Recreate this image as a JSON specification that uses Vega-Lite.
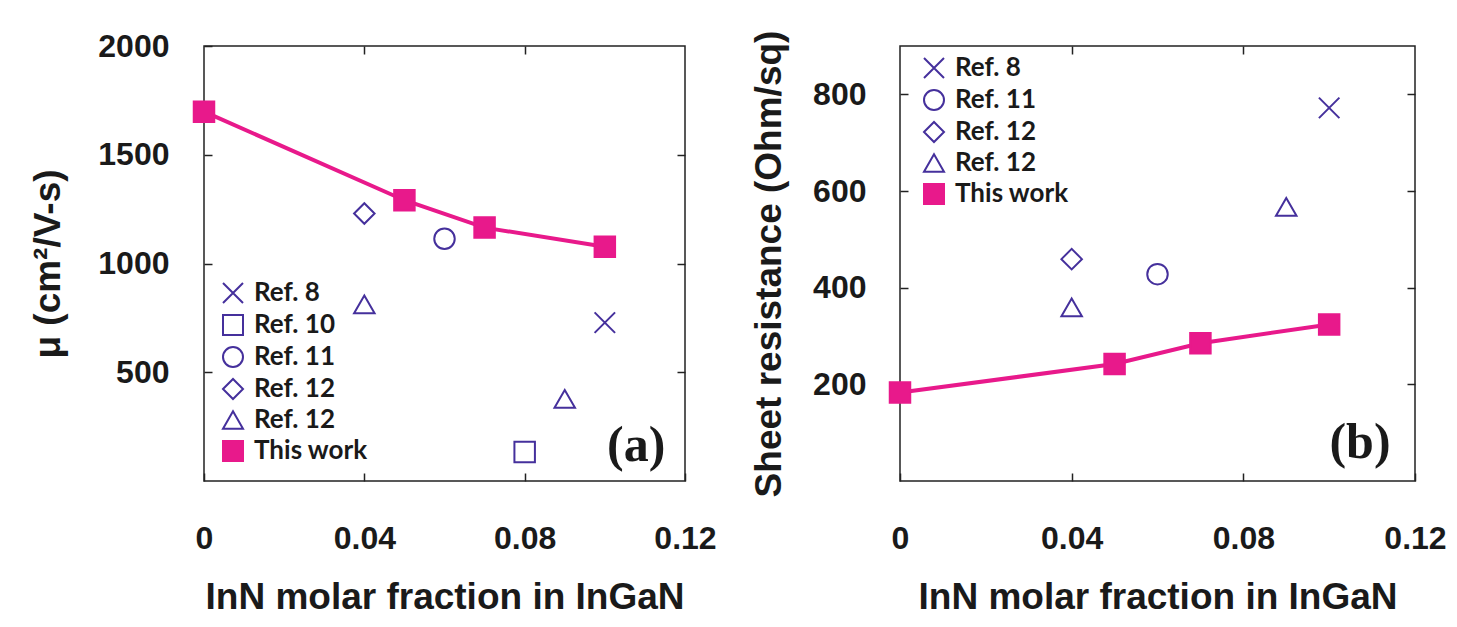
{
  "$schema": "https://vega.github.io/schema/vega-lite/v6.json",
  "background": "white",
  "padding": {"left": 29, "top": 29, "right": 10, "bottom": 5},
  "bounds": "flush",
  "spacing": 215,
  "resolve": {
    "scale": {"x": "independent", "y": "independent", "shape": "independent", "stroke": "independent", "fill": "independent"},
    "legend": {"shape": "independent", "stroke": "independent", "fill": "independent"}
  },
  "config": {
    "view": {"stroke": "#222222", "strokeWidth": 1.5},
    "axis": {
      "labelFont": "Liberation Sans", "labelFontWeight": "bold", "labelFontSize": 32, "labelColor": "#1a1a1a",
      "titleFont": "Liberation Sans", "titleFontWeight": "bold", "titleFontSize": 37, "titleColor": "#1a1a1a",
      "domain": false, "grid": false, "tickSize": -8, "tickColor": "#222222", "tickWidth": 1.5,
      "labelFlush": false, "labelOverlap": false
    },
    "legend": {
      "labelFont": "Lato", "labelFontWeight": "bold", "labelFontSize": 26, "labelColor": "#1a1a1a",
      "symbolSize": 400, "symbolStrokeWidth": 2, "rowPadding": 4, "labelOffset": 8, "padding": 0
    }
  },
  "datasets": {
    "a": [
      {"x": 0, "y": 1698, "series": "This work"},
      {"x": 0.05, "y": 1291, "series": "This work"},
      {"x": 0.07, "y": 1165, "series": "This work"},
      {"x": 0.1, "y": 1077, "series": "This work"},
      {"x": 0.1, "y": 728, "series": "Ref. 8"},
      {"x": 0.08, "y": 133, "series": "Ref. 10"},
      {"x": 0.06, "y": 1114, "series": "Ref. 11"},
      {"x": 0.04, "y": 1230, "series": "Ref. 12a"},
      {"x": 0.04, "y": 812, "series": "Ref. 12b"},
      {"x": 0.09, "y": 378, "series": "Ref. 12b"}
    ],
    "b": [
      {"x": 0, "y": 183, "series": "This work"},
      {"x": 0.05, "y": 242, "series": "This work"},
      {"x": 0.07, "y": 285, "series": "This work"},
      {"x": 0.1, "y": 324, "series": "This work"},
      {"x": 0.1, "y": 772, "series": "Ref. 8"},
      {"x": 0.06, "y": 428, "series": "Ref. 11"},
      {"x": 0.04, "y": 459, "series": "Ref. 12a"},
      {"x": 0.04, "y": 359, "series": "Ref. 12b"},
      {"x": 0.09, "y": 567, "series": "Ref. 12b"}
    ]
  },
  "hconcat": [
    {
      "width": 481,
      "height": 435,
      "data": {"name": "a"},
      "layer": [
        {
          "transform": [{"filter": "datum.series == 'This work'"}],
          "mark": {"type": "line", "color": "#e8198b", "strokeWidth": 4},
          "encoding": {
            "x": {"field": "x", "type": "quantitative", "scale": {"domain": [0, 0.12], "nice": false, "zero": false},
              "axis": {"orient": "bottom", "values": [0, 0.04, 0.08, 0.12], "format": ".2~f", "labelPadding": 50, "title": "InN molar fraction in InGaN", "titlePadding": 25}},
            "y": {"field": "y", "type": "quantitative", "scale": {"domain": [0, 2000], "nice": false, "zero": false},
              "axis": {"orient": "left", "values": [500, 1000, 1500, 2000], "format": "d", "labelPadding": 43, "title": "μ  (cm²/V-s)", "titlePadding": 30}}
          }
        },
        {
          "mark": {"type": "point", "filled": true, "size": 420, "strokeWidth": 2, "opacity": 1},
          "encoding": {
            "x": {"field": "x", "type": "quantitative", "axis": {"orient": "top", "values": [0.04, 0.08], "labels": false, "title": null}},
            "y": {"field": "y", "type": "quantitative", "axis": {"orient": "right", "values": [500, 1000, 1500], "labels": false, "title": null}},
            "shape": {"field": "series", "type": "nominal",
              "scale": {"domain": ["Ref. 8", "Ref. 10", "Ref. 11", "Ref. 12a", "Ref. 12b", "This work"],
                "range": ["M-1,-1L1,1M-1,1L1,-1", "square", "circle", "diamond", "triangle-up", "square"]},
              "legend": {"title": null, "orient": "none", "legendX": 16, "legendY": 234, "labelExpr": "datum.label == 'Ref. 12a' || datum.label == 'Ref. 12b' ? 'Ref. 12' : datum.label"}},
            "stroke": {"field": "series", "type": "nominal",
              "scale": {"domain": ["Ref. 8", "Ref. 10", "Ref. 11", "Ref. 12a", "Ref. 12b", "This work"],
                "range": ["#45309c", "#45309c", "#45309c", "#45309c", "#45309c", "#e8198b"]},
              "legend": {"title": null, "orient": "none", "legendX": 16, "legendY": 234, "labelExpr": "datum.label == 'Ref. 12a' || datum.label == 'Ref. 12b' ? 'Ref. 12' : datum.label"}},
            "fill": {"field": "series", "type": "nominal",
              "scale": {"domain": ["Ref. 8", "Ref. 10", "Ref. 11", "Ref. 12a", "Ref. 12b", "This work"],
                "range": ["transparent", "transparent", "transparent", "transparent", "transparent", "#e8198b"]},
              "legend": {"title": null, "orient": "none", "legendX": 16, "legendY": 234, "labelExpr": "datum.label == 'Ref. 12a' || datum.label == 'Ref. 12b' ? 'Ref. 12' : datum.label"}}
          }
        },
        {
          "data": {"values": [{"t": "(a)"}]},
          "mark": {"type": "text", "font": "Liberation Serif", "fontWeight": "bold", "fontSize": 50, "align": "right", "baseline": "alphabetic", "color": "#1a1a1a"},
          "encoding": {
            "x": {"datum": 0.1151, "type": "quantitative", "axis": null},
            "y": {"datum": 92, "type": "quantitative", "axis": null},
            "text": {"field": "t"}
          }
        }
      ],
      "resolve": {"axis": {"x": "independent", "y": "independent"}}
    },
    {
      "width": 515,
      "height": 435,
      "data": {"name": "b"},
      "layer": [
        {
          "transform": [{"filter": "datum.series == 'This work'"}],
          "mark": {"type": "line", "color": "#e8198b", "strokeWidth": 4},
          "encoding": {
            "x": {"field": "x", "type": "quantitative", "scale": {"domain": [0, 0.12], "nice": false, "zero": false},
              "axis": {"orient": "bottom", "values": [0, 0.04, 0.08, 0.12], "format": ".2~f", "labelPadding": 50, "title": "InN molar fraction in InGaN", "titlePadding": 25}},
            "y": {"field": "y", "type": "quantitative", "scale": {"domain": [0, 900], "nice": false, "zero": false},
              "axis": {"orient": "left", "values": [200, 400, 600, 800], "format": "d", "labelPadding": 42, "title": "Sheet resistance (Ohm/sq)", "titlePadding": 24}}
          }
        },
        {
          "mark": {"type": "point", "filled": true, "size": 420, "strokeWidth": 2, "opacity": 1},
          "encoding": {
            "x": {"field": "x", "type": "quantitative", "axis": {"orient": "top", "values": [0.04, 0.08], "labels": false, "title": null}},
            "y": {"field": "y", "type": "quantitative", "axis": {"orient": "right", "values": [200, 400, 600, 800], "labels": false, "title": null}},
            "shape": {"field": "series", "type": "nominal",
              "scale": {"domain": ["Ref. 8", "Ref. 11", "Ref. 12a", "Ref. 12b", "This work"],
                "range": ["M-1,-1L1,1M-1,1L1,-1", "circle", "diamond", "triangle-up", "square"]},
              "legend": {"title": null, "orient": "none", "legendX": 21, "legendY": 9, "labelExpr": "datum.label == 'Ref. 12a' || datum.label == 'Ref. 12b' ? 'Ref. 12' : datum.label"}},
            "stroke": {"field": "series", "type": "nominal",
              "scale": {"domain": ["Ref. 8", "Ref. 11", "Ref. 12a", "Ref. 12b", "This work"],
                "range": ["#45309c", "#45309c", "#45309c", "#45309c", "#e8198b"]},
              "legend": {"title": null, "orient": "none", "legendX": 21, "legendY": 9, "labelExpr": "datum.label == 'Ref. 12a' || datum.label == 'Ref. 12b' ? 'Ref. 12' : datum.label"}},
            "fill": {"field": "series", "type": "nominal",
              "scale": {"domain": ["Ref. 8", "Ref. 11", "Ref. 12a", "Ref. 12b", "This work"],
                "range": ["transparent", "transparent", "transparent", "transparent", "#e8198b"]},
              "legend": {"title": null, "orient": "none", "legendX": 21, "legendY": 9, "labelExpr": "datum.label == 'Ref. 12a' || datum.label == 'Ref. 12b' ? 'Ref. 12' : datum.label"}}
          }
        },
        {
          "data": {"values": [{"t": "(b)"}]},
          "mark": {"type": "text", "font": "Liberation Serif", "fontWeight": "bold", "fontSize": 50, "align": "right", "baseline": "alphabetic", "color": "#1a1a1a"},
          "encoding": {
            "x": {"datum": 0.1143, "type": "quantitative", "axis": null},
            "y": {"datum": 47, "type": "quantitative", "axis": null},
            "text": {"field": "t"}
          }
        }
      ],
      "resolve": {"axis": {"x": "independent", "y": "independent"}}
    }
  ]
}
